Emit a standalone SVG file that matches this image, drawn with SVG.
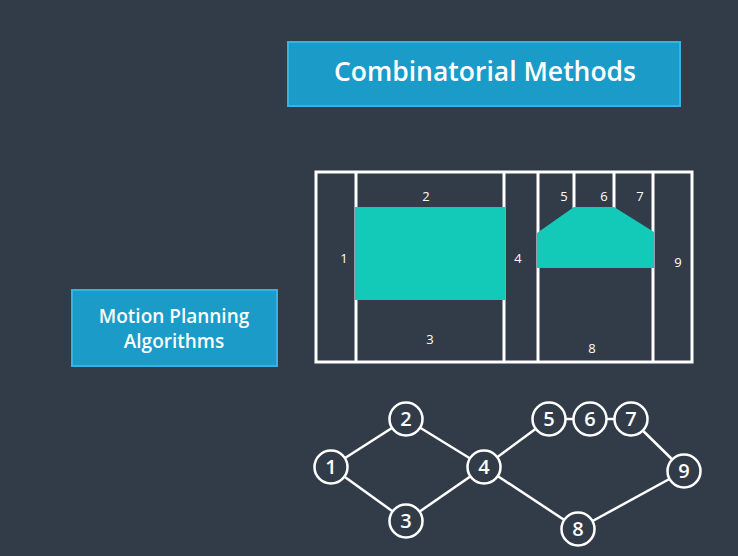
<svg xmlns="http://www.w3.org/2000/svg" width="738" height="556" viewBox="0 0 738 556">
<style>
.t{font-family:"Open Sans","Noto Sans",sans-serif;fill:#fff;text-anchor:middle}
.box{fill:#1b9bc8;stroke:#33b3e0;stroke-width:2}
.w{stroke:#fff;stroke-width:3;fill:none}
.obs{fill:#13c9b8}
.lab{font-family:"Open Sans","Noto Sans",sans-serif;fill:#fff;text-anchor:middle;font-size:13px}
.nd circle{fill:#323c48;stroke:#fff;stroke-width:2.5}
.nd text{font-family:"Open Sans","Noto Sans",sans-serif;fill:#fff;text-anchor:middle;font-size:20px;font-weight:600}
.e line{stroke:#fff;stroke-width:2.5}
</style>
<rect width="738" height="556" fill="#323c48"/>
<g id="title">
<rect class="box" x="288" y="42" width="392" height="64"/>
<text class="t" x="485" y="81" font-size="26.5" font-weight="600">Combinatorial Methods</text>
</g>
<g id="mpa">
<rect class="box" x="72" y="290" width="205" height="76"/>
<text class="t" x="174" y="323" font-size="19" font-weight="600">Motion Planning</text>
<text class="t" x="174" y="348" font-size="19" font-weight="600">Algorithms</text>
</g>
<g id="cells">
<rect class="w" x="316" y="172" width="376" height="190"/>
<line class="w" x1="356" y1="172" x2="356" y2="362"/>
<line class="w" x1="504" y1="172" x2="504" y2="362"/>
<line class="w" x1="538" y1="172" x2="538" y2="362"/>
<line class="w" x1="653" y1="172" x2="653" y2="362"/>
<line class="w" x1="574" y1="172" x2="574" y2="208"/>
<line class="w" x1="614" y1="172" x2="614" y2="208"/>
<rect class="obs" x="355" y="207" width="150" height="93"/>
<polygon class="obs" points="537,233 574,207 614,207 654,232 654,268 537,268"/>
<text class="lab" x="344" y="263">1</text>
<text class="lab" x="426" y="201">2</text>
<text class="lab" x="430" y="344">3</text>
<text class="lab" x="518" y="263">4</text>
<text class="lab" x="564" y="201">5</text>
<text class="lab" x="604" y="201">6</text>
<text class="lab" x="640" y="201">7</text>
<text class="lab" x="592" y="353">8</text>
<text class="lab" x="678" y="267">9</text>
</g>
<g id="edges" class="e">
<line x1="331" y1="467" x2="406" y2="419"/>
<line x1="331" y1="467" x2="406" y2="521"/>
<line x1="406" y1="419" x2="484" y2="467"/>
<line x1="406" y1="521" x2="484" y2="467"/>
<line x1="484" y1="467" x2="549" y2="419"/>
<line x1="484" y1="467" x2="578" y2="529"/>
<line x1="549" y1="419" x2="631" y2="419"/>
<line x1="631" y1="419" x2="684" y2="471"/>
<line x1="578" y1="529" x2="684" y2="471"/>
</g>
<g id="n1" class="nd"><circle cx="331" cy="467" r="16.5"/><text x="331" y="474">1</text></g>
<g id="n2" class="nd"><circle cx="406" cy="419" r="16.5"/><text x="406" y="426">2</text></g>
<g id="n3" class="nd"><circle cx="406" cy="521" r="16.5"/><text x="406" y="528">3</text></g>
<g id="n4" class="nd"><circle cx="484" cy="467" r="16.5"/><text x="484" y="474">4</text></g>
<g id="n5" class="nd"><circle cx="549" cy="419" r="16.5"/><text x="549" y="426">5</text></g>
<g id="n6" class="nd"><circle cx="590" cy="419" r="16.5"/><text x="590" y="426">6</text></g>
<g id="n7" class="nd"><circle cx="631" cy="419" r="16.5"/><text x="631" y="426">7</text></g>
<g id="n8" class="nd"><circle cx="578" cy="529" r="16.5"/><text x="578" y="536">8</text></g>
<g id="n9" class="nd"><circle cx="684" cy="471" r="16.5"/><text x="684" y="478">9</text></g>
</svg>
